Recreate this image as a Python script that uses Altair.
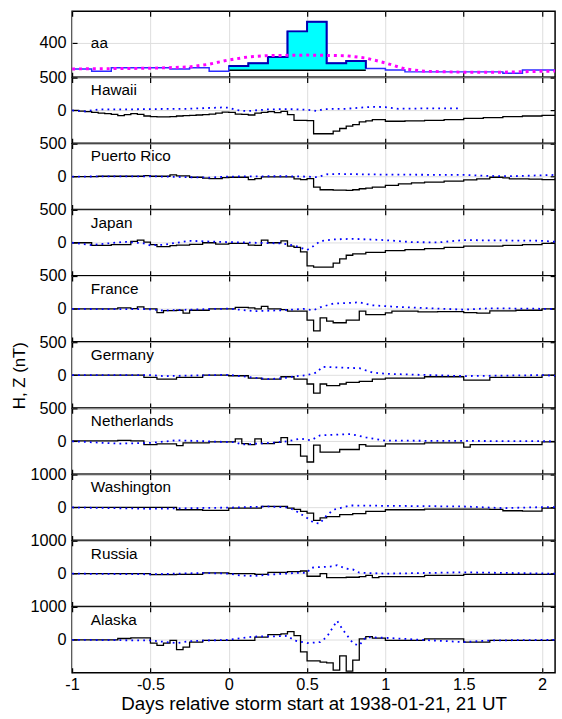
import altair as alt
import pandas as pd

FONT = "Liberation Sans"

# ---------------- data (hours relative to storm start, value) ----------------
AA = [(-24, 95), (-21, 68), (-18, 110), (-15, 110), (-12, 110), (-9, 95), (-6, 110), (-3, 68),
      (0, 129), (3, 160), (6, 233), (9, 532), (12, 643), (15, 160), (18, 187), (21, 99),
      (24, 84), (27, 61), (30, 61), (33, 61), (36, 61), (39, 61), (42, 45), (45, 84), (48, 84), (50, 84)]
AA_SMOOTH = [(-24, 95), (-12, 103), (-6, 118), (-3, 150), (0, 200), (3, 235), (6, 250), (12, 256),
             (18, 249), (21, 222), (24, 165), (27, 95), (30, 68), (36, 57), (42, 57), (48, 68), (50, 70)]
AA_FILL_BASE = 80

HAWAII_H = [(-24, 0), (-23, -10), (-22, -20), (-21, -30), (-20, -40), (-19, -50), (-18, -60), (-17, -80),
            (-16, -65), (-15, -50), (-14, -60), (-13, -85), (-12, -95), (-11, -100), (-10, -100), (-9, -95),
            (-8, -85), (-7, -80), (-6, -75), (-5, -70), (-4, -65), (-3, -55), (-2, -40), (-1, -25), (0, -30),
            (1, -55), (2, -60), (3, -70), (4, -40), (5, -30), (6, -20), (7, -35), (8, -15), (9, -65),
            (10, -150), (12, -155), (13, -355), (16, -315), (17, -275), (18, -240), (19, -215), (20, -175),
            (21, -160), (22, -140), (24, -165), (27, -160), (30, -150), (33, -140), (36, -120), (39, -110),
            (42, -95), (45, -85), (48, -75), (50, -75)]
HAWAII_Z = [(-24, 0), (-22, -15), (-20, 15), (-16, 15), (-12, 20), (-6, 25), (-1, 45), (0, 40), (1, 10),
            (2, -5), (3, -10), (4, 0), (6, 15), (9, 20), (12, 10), (13, 0), (13.5, -10), (14.5, 20),
            (18, 25), (22, 55), (24, 50), (26, 25), (30, 30), (35.3, 30)]

PR_H = [(-24, 0), (-20, 5), (-13, 15), (-12, 5), (-9, 25), (-8, 10), (-6, -10), (-4, -25), (-3, -30),
        (-1, -15), (0, -10), (3, -45), (4, -30), (5, -5), (9, -5), (10, -35), (11, -45), (12, -30),
        (13, -160), (14, -200), (16, -205), (18, -210), (19, -200), (20, -185), (21, -175), (22, -160),
        (24, -135), (26, -110), (28, -95), (30, -85), (33, -70), (36, -50), (38, -35), (40, -10),
        (42, -20), (43, -35), (46, -40), (48, -45), (50, -30)]
PR_Z = [(-24, 0), (-12, 5), (-6, -10), (-3, -15), (0, 0), (6, 5), (9, 5), (12, 0), (13.6, -10), (15, 35),
        (17, 40), (20, 35), (24, 30), (36, 25), (40, 10), (42, 5), (45, 10), (48, 20), (50, 25)]

JAPAN_H = [(-24, 0), (-21, -40), (-18, -30), (-15, 20), (-14, 40), (-13, 10), (-12, -30), (-11, -60),
           (-9, -45), (-8, -35), (-6, -25), (-4, 0), (-2, -20), (0, -10), (3, -35), (4, -40), (5, 40),
           (6, 0), (8, 30), (9, -50), (10, -70), (11, -140), (12, -350), (13, -370), (16, -310),
           (17, -245), (18, -190), (19, -170), (21, -145), (24, -120), (27, -105), (30, -90), (33, -70),
           (36, -50), (42, -40), (45, -30), (48, -10), (50, -20)]
JAPAN_Z = [(-24, 0), (-21, -35), (-16, 15), (-13, -10), (-12, -40), (-10, -30), (-6, 30), (-2, 15),
           (0, 10), (8, -10), (10, -40), (12, -110), (13, -50), (14, 25), (16, 50), (19, 60), (24, 40),
           (28, 10), (32, 5), (36, 40), (48, 30), (50, 15)]

FRANCE_H = [(-24, 0), (-17, 15), (-15, 5), (-14, 30), (-13, 0), (-11, -55), (-10, -25), (-8, -20),
            (-7, -65), (-6, -20), (-3, 0), (1, 25), (3, 15), (4, 0), (5, 40), (6, 0), (8, -10), (9, -35),
            (12, -170), (13, -335), (14, -135), (15, -185), (16, -210), (18, -170), (20, -35), (21, -85),
            (24, -60), (25, -35), (29, -45), (32, -40), (36, -55), (38, -65), (40, -30), (44, -20),
            (48, 0), (50, 0)]
FRANCE_Z = [(-24, 0), (-12, -5), (-10, -25), (-6, -10), (0, 5), (4, -35), (8, -20), (11.5, 0), (13, -20),
            (14, 25), (16, 80), (20, 100), (22, 55), (26, 30), (36, -10), (40, 10), (50, 0)]

GERMANY_H = [(-24, 0), (-13, -35), (-11, -60), (-8, -35), (-4, 0), (0, -10), (3, -45), (5, -60),
             (8, -25), (10, -60), (12, -135), (13, -275), (14, -135), (15, -160), (17, -135), (18, -110),
             (20, -95), (22, -60), (24, -45), (30, -25), (36, -75), (40, -35), (48, 0), (50, -25)]
GERMANY_Z = [(-24, 0), (-12, 0), (-10, -15), (0, 5), (4, -40), (6, -60), (8, -50), (10, -20), (12, 0),
             (13.5, 40), (14.3, 125), (17, 115), (20, 105), (22, 40), (24, 20), (36, -15), (48, 0), (50, -10)]

NETH_H = [(-24, 5), (-17, 15), (-15, 5), (-13, -50), (-11, -40), (-8, -65), (-7, -25), (-3, -10),
          (1, 35), (2, -35), (3, -50), (4, 35), (5, -35), (7, -15), (8, 55), (9, -50), (11, -225),
          (12, -315), (13, -60), (14, -165), (17, -125), (20, -50), (21, -75), (24, -40), (30, -25),
          (36, -90), (37, -50), (48, -10), (50, -10)]
NETH_Z = [(-24, 0), (-17, -35), (-12, -25), (-8, 15), (1, -15), (2, -50), (7, -20), (9, 0), (11, 40),
          (12.6, 15), (14, 90), (18.6, 110), (21, 60), (24, 10), (50, 0)]

WASH_H = [(-24, 0), (-12, 0), (-8, -70), (-4, -90), (0, -20), (5, 30), (9, -20), (10, -60), (11, -120),
          (12, -170), (13, -390), (14, -320), (15, -280), (17, -220), (19, -190), (21, -120), (24, -70),
          (30, -50), (40, -60), (42, -100), (45, -110), (48, -20), (50, 0)]
WASH_Z = [(-24, 0), (-12, -40), (0, -5), (6, 30), (9, 0), (10, -70), (12, -320), (13, -460), (14, -490),
          (14.6, -320), (16, -70), (18.6, 60), (24, 50), (36, 30), (42, -20), (48, 10), (50, 10)]

RUSSIA_H = [(-24, 0), (-12, -30), (-8, -20), (-4, 20), (0, 0), (4, -20), (6, 40), (9, 60), (11, 80),
            (12, -80), (14, 0), (15, -120), (18, -110), (20, -90), (21, -50), (22, -120), (23, -90),
            (24, -90), (30, -50), (36, -20), (50, 0)]
RUSSIA_Z = [(-24, 0), (-12, -20), (-4, 20), (0, 0), (2, -60), (4, -70), (7, -20), (11, 30), (12, 20),
            (12.6, 180), (14, 200), (16, 220), (16.6, 260), (18, 150), (19, 130), (20, 30), (24, 0),
            (36, 40), (50, 0)]

ALASKA_H = [(-24, 0), (-17, 40), (-15, 60), (-12, -100), (-11, -170), (-10, -100), (-9, -20), (-8, -300),
            (-7, -220), (-6, -70), (-4, -20), (0, -20), (4, 80), (6, 160), (8, 180), (9, 250), (10, 130),
            (11, -370), (12, -640), (14, -680), (15, -700), (16, -920), (17, -490), (18, -950),
            (19, -620), (20, 30), (21, 100), (22, 50), (24, -20), (30, 30), (36, -70), (40, -20), (50, 0)]
ALASKA_Z = [(-24, 0), (-12, -20), (-8, -100), (-6, -40), (0, 0), (4, 100), (8, 110), (9, 120), (10, -20),
            (12, -100), (14, -70), (15, 80), (16.6, 580), (17.5, 300), (19.1, -120), (20, -170), (21, 80),
            (24, 60), (36, -70), (40, -20), (50, 0)]

STATIONS = [
    ("Hawaii", HAWAII_H, HAWAII_Z, 500),
    ("Puerto Rico", PR_H, PR_Z, 500),
    ("Japan", JAPAN_H, JAPAN_Z, 500),
    ("France", FRANCE_H, FRANCE_Z, 500),
    ("Germany", GERMANY_H, GERMANY_Z, 500),
    ("Netherlands", NETH_H, NETH_Z, 500),
    ("Washington", WASH_H, WASH_Z, 1000),
    ("Russia", RUSSIA_H, RUSSIA_Z, 1000),
    ("Alaska", ALASKA_H, ALASKA_Z, 1000),
]
X_TICKS = [-1, -0.5, 0, 0.5, 1, 1.5, 2]
X_DOMAIN = [-1, 50 / 24]
AA_DOMAIN = [0, 765]
AA_TICKS = [0, 400]

W = 489
H = 66.6
GRID = "#dddddd"


def frame(pairs):
    return pd.DataFrame({"x": [p[0] / 24 for p in pairs], "v": [p[1] for p in pairs]})


xscale = alt.Scale(domain=X_DOMAIN, nice=False, zero=False)


def x_bottom(last):
    kw = dict(orient="bottom", values=X_TICKS, grid=True, gridColor=GRID, gridWidth=1, domain=False,
              ticks=True, tickSize=5, tickColor="black", tickWidth=1.2, offset=-5, labels=last)
    if last:
        kw.update(labelExpr="toString(datum.value)", labelFont=FONT, labelFontSize=16.5,
                  labelColor="black", labelPadding=4, labelFlush=False, labelOverlap=False,
                  title="Days relative storm start at 1938-01-21, 21 UT", titleFont=FONT,
                  titleFontSize=19, titleFontWeight="normal", titleColor="black", titlePadding=1.5)
    else:
        kw.update(title=None)
    return alt.Axis(**kw)


def x_top():
    return alt.Axis(orient="top", values=X_TICKS, grid=False, domain=False, labels=False, tickSize=5,
                    tickColor="black", tickWidth=1.2, offset=-5, title=None)


def y_left(ticks, title="", hide_zero=False):
    kw = dict(orient="left", values=ticks, grid=True, gridColor=GRID, gridWidth=1, domain=False,
              tickSize=5, tickColor="black", tickWidth=1.2, offset=-5, labelFont=FONT,
              labelFontSize=16.5, labelColor="black", labelPadding=6, format="d", labelFlush=False,
              labelOverlap=False)
    if hide_zero:
        kw.update(labelExpr="datum.value == 0 ? '' : toString(datum.value)")
    if title:
        kw.update(title=title, titleFont=FONT, titleFontSize=17, titleFontWeight="normal",
                  titleColor="black", titlePadding=11)
    else:
        kw.update(title=None)
    return alt.Axis(**kw)


def y_right(ticks):
    return alt.Axis(orient="right", values=ticks, grid=False, domain=False, labels=False, tickSize=5,
                    tickColor="black", tickWidth=1.2, offset=-5, title=None)


def label_layer(name, ypix):
    return alt.Chart(pd.DataFrame({"t": [name]})).mark_text(
        align="left", baseline="middle", font=FONT, fontSize=15.5, color="black"
    ).encode(x=alt.value(19), y=alt.value(ypix), text="t:N")


# ---------------- aa panel ----------------
aa_y = alt.Scale(domain=AA_DOMAIN, nice=False, zero=False)
aa_df = frame(AA)
storm_df = frame(AA[8:16])
storm_df["b"] = AA_FILL_BASE
base_df = pd.DataFrame({"x": [AA[8][0] / 24], "x2": [AA[15][0] / 24], "b": [AA_FILL_BASE]})

aa_fill = alt.Chart(storm_df).mark_area(interpolate="step-after", color="#00ffff", opacity=1).encode(
    x=alt.X("x:Q", scale=xscale, axis=x_bottom(False)),
    y=alt.Y("v:Q", scale=aa_y, axis=y_left(AA_TICKS, hide_zero=True)),
    y2="b:Q",
)
aa_base = alt.Chart(base_df).mark_rule(color="black", strokeWidth=1.5).encode(
    x=alt.X("x:Q", scale=xscale, axis=None), x2="x2:Q", y=alt.Y("b:Q", scale=aa_y, axis=None)
)
aa_line = alt.Chart(aa_df).mark_line(interpolate="step-after", color="#2b2bff", strokeWidth=1.5).encode(
    x=alt.X("x:Q", scale=xscale, axis=None), y=alt.Y("v:Q", scale=aa_y, axis=None)
)
aa_storm = alt.Chart(storm_df).mark_line(interpolate="step-after", color="#0000b0", strokeWidth=2).encode(
    x=alt.X("x:Q", scale=xscale, axis=None), y=alt.Y("v:Q", scale=aa_y, axis=None)
)
aa_smooth = alt.Chart(frame(AA_SMOOTH)).mark_line(color="#ff00ff", strokeWidth=3, strokeDash=[3, 4]).encode(
    x=alt.X("x:Q", scale=xscale, axis=x_top()),
    y=alt.Y("v:Q", scale=aa_y, axis=y_right(AA_TICKS)),
)
aa_panel = alt.layer(aa_fill, aa_base, aa_line, aa_storm, aa_smooth, label_layer("aa", 32)).resolve_axis(
    x="independent", y="independent"
).properties(width=W, height=H)


# ---------------- station panels ----------------
def station_panel(name, hp, zp, ymax, last=False, ytitle=""):
    ysc = alt.Scale(domain=[-ymax, ymax], nice=False, zero=False)
    hline = alt.Chart(frame(hp)).mark_line(interpolate="step-after", color="black", strokeWidth=1.3,
                                           clip=True).encode(
        x=alt.X("x:Q", scale=xscale, axis=x_bottom(last)),
        y=alt.Y("v:Q", scale=ysc, axis=y_left([0, ymax], ytitle)),
    )
    zline = alt.Chart(frame(zp)).mark_line(color="#0000ff", strokeWidth=1.8, strokeDash=[1.8, 4.2],
                                           clip=True).encode(
        x=alt.X("x:Q", scale=xscale, axis=x_top()),
        y=alt.Y("v:Q", scale=ysc, axis=y_right([0, ymax])),
    )
    return alt.layer(hline, zline, label_layer(name, 13)).resolve_axis(
        x="independent", y="independent"
    ).properties(width=W, height=H)


panels = [aa_panel]
for i, (name, hp, zp, ymax) in enumerate(STATIONS):
    panels.append(station_panel(name, hp, zp, ymax, last=(i == len(STATIONS) - 1),
                                ytitle=("H, Z (nT)" if name == "Germany" else "")))

chart = alt.vconcat(*panels, spacing=0, bounds="flush").configure_view(
    stroke="black", strokeWidth=1.5
).properties(
    padding={"left": 9, "top": 5, "right": 0, "bottom": 0}, background="white"
)

chart.save("out.html", embed_options={"renderer": "svg", "actions": False})
